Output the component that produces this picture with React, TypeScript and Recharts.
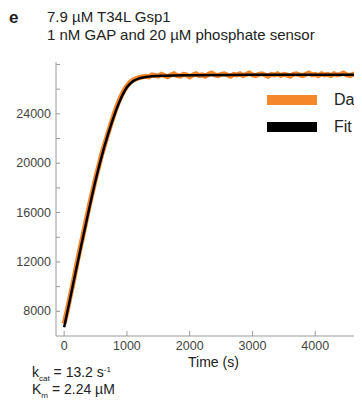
import { Legend, Line, LineChart, XAxis, YAxis } from "recharts";

// measured trace (a.u.) every 50 s
const dataTimes = [
  0, 50, 100, 150, 200, 250, 300, 350, 400, 450, 500, 550, 600, 650, 700, 750, 800, 850, 900, 950,
  1000, 1050, 1100, 1150, 1200, 1250, 1300, 1350, 1400, 1450, 1500, 1550, 1600, 1650, 1700, 1750,
  1800, 1850, 1900, 1950, 2000, 2050, 2100, 2150, 2200, 2250, 2300, 2350, 2400, 2450, 2500, 2550,
  2600, 2650, 2700, 2750, 2800, 2850, 2900, 2950, 3000, 3050, 3100, 3150, 3200, 3250, 3300, 3350,
  3400, 3450, 3500, 3550, 3600, 3650, 3700, 3750, 3800, 3850, 3900, 3950, 4000, 4050, 4100, 4150,
  4200, 4250, 4300, 4350, 4400, 4450, 4500, 4550, 4600, 4650, 4700, 4750, 4800, 4850, 4900, 4950, 5000,
];
const dataValues = [
  7000, 8100, 9300, 10500, 11800, 13000, 14150, 15350, 16550, 17650, 18750, 19750, 20750, 21600,
  22450, 23250, 24050, 24750, 25350, 25850, 26250, 26550, 26750, 26850, 26950, 27000, 27050, 27000,
  27150, 27100, 27050, 27200, 27100, 27000, 27150, 27250, 27100, 27050, 27200, 27150, 27000, 27150,
  27250, 27100, 27150, 27050, 27200, 27300, 27150, 27100, 27200, 27250, 27150, 27050, 27200, 27150,
  27250, 27100, 27200, 27300, 27150, 27100, 27200, 27250, 27150, 27050, 27200, 27150, 27250, 27100,
  27200, 27150, 27050, 27200, 27250, 27150, 27100, 27200, 27300, 27150, 27200, 27100, 27250, 27150,
  27200, 27100, 27250, 27150, 27200, 27300, 27150, 27100, 27200, 27250, 27150, 27200, 27100, 27250,
  27150, 27200, 27150,
];

// fitted curve
const fitTimes = [0, 100, 200, 300, 400, 500, 600, 700, 800, 900, 1000, 1100, 1200, 1300, 1400, 1600, 2000, 3000, 4000, 5000];
const fitValues = [
  6700, 9150, 11600, 14000, 16350, 18600, 20600, 22350, 23900, 25200, 26150, 26650, 26880, 26980,
  27040, 27090, 27130, 27160, 27170, 27180,
];

const xTicks = [0, 500, 1000, 1500, 2000, 2500, 3000, 3500, 4000, 4500, 5000];
const xLabels = [0, 1000, 2000, 3000, 4000];
const yTicks = [8000, 10000, 12000, 14000, 16000, 18000, 20000, 22000, 24000, 26000, 28000];
const yLabels = [8000, 12000, 16000, 20000, 24000];

const measured = dataTimes.map((t, i) => ({ t, v: dataValues[i] }));
const fit = fitTimes.map((t, i) => ({ t, v: fitValues[i] }));

const FONT = "'Liberation Sans', Arial, Helvetica, sans-serif";
const AXIS = "#9a9a9a";
const LEFT = 48;
const TOP = 54;
const BOTTOM = 328;

function YTick(props: any) {
  const { y, payload } = props;
  const v = payload.value;
  return (
    <g>
      <line x1={LEFT} x2={LEFT + 4} y1={y} y2={y} stroke={AXIS} />
      {yLabels.includes(v) && (
        <text x={LEFT - 5} y={y} dy={4} textAnchor="end" fontSize={12.5} fill="#444" fontFamily={FONT}>
          {v}
        </text>
      )}
    </g>
  );
}

function XTick(props: any) {
  const { x, payload } = props;
  const v = payload.value;
  const major = v % 1000 === 0;
  return (
    <g>
      <line x1={x} x2={x} y1={BOTTOM} y2={BOTTOM - (major ? 5 : 3)} stroke={AXIS} />
      {xLabels.includes(v) && (
        <text x={x} y={BOTTOM + 14} textAnchor="middle" fontSize={12.5} fill="#444" fontFamily={FONT}>
          {v}
        </text>
      )}
    </g>
  );
}

function TopTick(props: any) {
  const { x, payload } = props;
  const major = payload.value % 1000 === 0;
  return <line x1={x} x2={x} y1={TOP} y2={TOP + (major ? 5 : 3)} stroke={AXIS} />;
}

function LegendBox() {
  const row = (color: string, label: string) => (
    <div style={{ display: "flex", alignItems: "center", height: 27 }}>
      <div style={{ width: 50, height: 10, background: color }} />
      <span style={{ marginLeft: 17, fontSize: 16, color: "#222", fontFamily: FONT, whiteSpace: "nowrap" }}>{label}</span>
    </div>
  );
  return (
    <div>
      {row("#f5862a", "Data")}
      {row("#000000", "Fit")}
    </div>
  );
}

export default function App() {
  return (
    <div style={{ position: "relative", width: 354, height: 393, overflow: "hidden", fontFamily: FONT, color: "#222" }}>
      <style>{"html, body { overflow: hidden; }"}</style>
      <div style={{ position: "absolute", left: 1, top: 0, fontSize: 17, fontWeight: "bold" }}>e</div>
      <div style={{ position: "absolute", left: 39, top: 0, fontSize: 15, lineHeight: "18px" }}>
        7.9 µM T34L Gsp1
        <br />1 nM GAP and 20 µM phosphate sensor
      </div>
      <LineChart width={380} height={393} margin={{ top: TOP, right: 10, left: 0, bottom: 45 }}>
        <XAxis
          dataKey="t"
          type="number"
          domain={[-130, 5000]}
          ticks={xTicks}
          tick={<XTick />}
          tickLine={false}
          stroke={AXIS}
          height={20}
          allowDataOverflow
        />
        <XAxis
          xAxisId="top"
          orientation="top"
          dataKey="t"
          type="number"
          domain={[-130, 5000]}
          ticks={xTicks}
          tick={<TopTick />}
          tickLine={false}
          stroke={AXIS}
          height={0}
          allowDataOverflow
        />
        <YAxis
          dataKey="v"
          type="number"
          domain={[6000, 28200]}
          ticks={yTicks}
          tick={<YTick />}
          tickLine={false}
          stroke={AXIS}
          width={48}
          allowDataOverflow
        />
        <Legend
          layout="horizontal"
          verticalAlign="middle"
          align="center"
          content={<LegendBox />}
          wrapperStyle={{ position: "absolute", left: 259, top: 78, width: 120 }}
        />
        <Line data={measured} dataKey="v" stroke="#f5862a" strokeWidth={5} dot={false} isAnimationActive={false} />
        <Line data={fit} type="monotone" dataKey="v" stroke="#000" strokeWidth={2.5} dot={false} isAnimationActive={false} />
      </LineChart>
      <div style={{ position: "absolute", left: 180, top: 346, fontSize: 14 }}>Time (s)</div>
      <div style={{ position: "absolute", left: 24, top: 357, fontSize: 14, lineHeight: "15px" }}>
        <div>
          k<span style={{ fontSize: 8, position: "relative", top: 4 }}>cat</span> = 13.2 s
          <span style={{ fontSize: 8, position: "relative", top: -5 }}>-1</span>
        </div>
        <div>
          K<span style={{ fontSize: 8, position: "relative", top: 4 }}>m</span> = 2.24 µM
        </div>
      </div>
    </div>
  );
}
